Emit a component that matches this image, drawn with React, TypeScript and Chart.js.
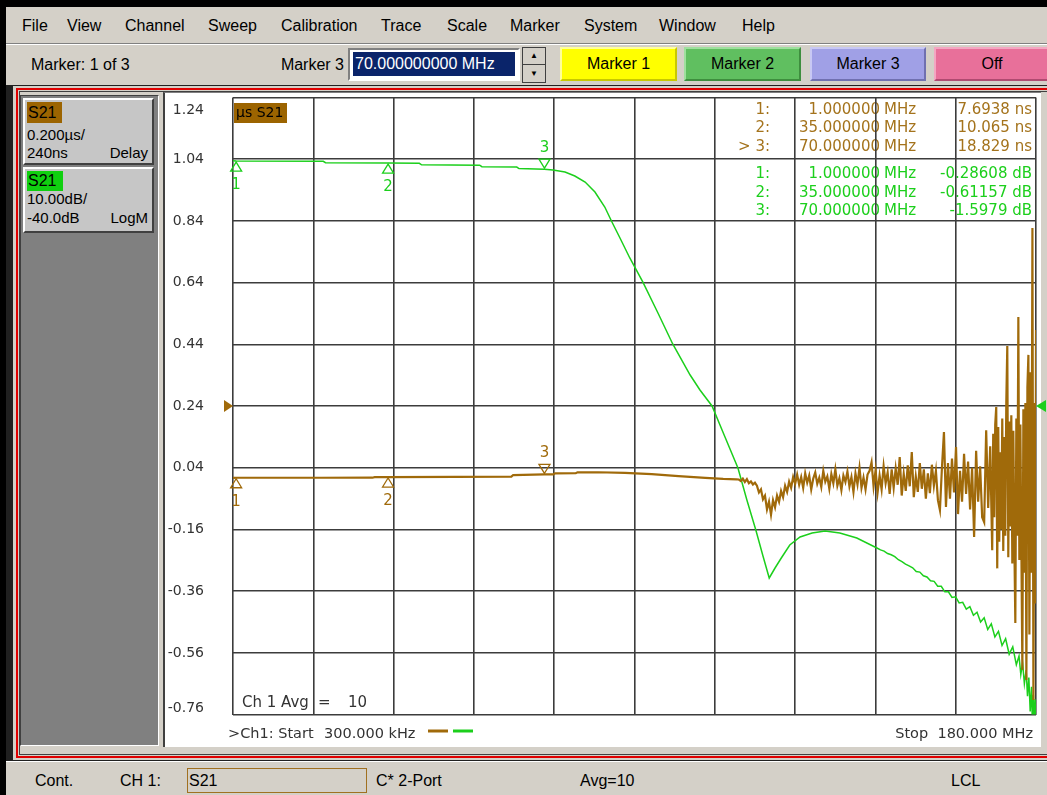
import React, { useEffect, useRef } from "react";
import { Chart, registerables } from "chart.js";

Chart.register(...registerables);

// ---------- sweep / scale settings ----------
const sweepStartMHz = 0.3;
const sweepStopMHz = 180;
const gridDivisions = 10;
const delayTickLabels = ["1.24", "1.04", "0.84", "0.64", "0.44", "0.24", "0.04", "-0.16", "-0.36", "-0.56", "-0.76"];
const delayRefNs = 240;
const magRefDb = -40;
const magMinDb = -90;
const magMaxDb = 10;

// ---------- markers ----------
const markerFreqsMHz = [1, 35, 70];
const markerDelayNs = [7.6938, 10.065, 18.829];
const markerMagDb = [-0.28608, -0.61157, -1.5979];
const activeMarker = 3;

// ---------- S21 group delay (ns) ----------
const delayFreqsMHz = [0.3, 1, 10, 20, 31.5, 32, 35, 50, 62.6, 63, 70, 72, 72.4, 77, 77.4, 82, 88, 94, 100, 106, 110, 113];
const delayNs = [7.4, 7.69, 7.7, 7.8, 7.9, 9.8, 10.07, 10.6, 11.2, 16.5, 18.83, 19.0, 22.0, 22.3, 25.2, 25.6, 23.5, 19.5, 13.0, 7.5, 4.0, 2.5];
const delayNoiseStartMHz = 113.5;
const delayNoiseStepMHz = 0.45;
const delayNoiseNs = [
  2, -3, 5, -6, 3, -10, -4, -14, -8,
  -18, -40, -30, -62, -50, -95, -70, -112,
  -65, -88, -50, -70, -35, -55, -18, -38, -5, -25, 10, -12,
  18, -15, 10, -25, 22, -8, 15, -30, 5, 25, -12, 8, -22, 30, -5, 12, -28, 20, -10, 35, -18, 6, -32, 15, -6, 28, -20, 10, -38, 22, -14, 40, -25, 8, -30, 18,
  30, 58, -20, 32, -40, 15, -30, 45, -10, 25, -45, 35, -25, 38, -15, 75, -50, 20, -35, 48, -20, 91, -55, 12, -38, 55, -28, 35, -60, 22, -42, 50, -18, 30, -65, -97,
  40, 156, -87, 55, -60, 70, -40, 107, -110, 30, -70, 85, -45, 60, -95, 40, -184, 95, -70, 45, -120, -136, 162, -90, 110,
];
const delayDenseStartMHz = 170.2;
const delayDenseStepMHz = 0.225;
const delayDenseNs = [
  -227, 150, -120, 180, 237, -286, 172, -200, 90, -160, 200, -230, 140, -180, 250, 435, -250, 190, -150, 210, -270, 160,
  -200, -463, 200, -180, 529, -259, 180, -220, -615, 230, -300, 250, -648, 300, 406, -500, 350, -300, 817, -713, 250, -400,
];
const delayEndFreqMHz = 180;
const delayEndNs = 487;

// ---------- S21 log magnitude (dB) ----------
const magFreqsMHz = [
  0.3, 1, 20.5, 21, 35, 42, 42.5, 55.5, 56, 63.8, 64.3, 70, 71.9, 74.6, 76.8, 79.1, 81.3, 83.5, 85.1, 86.9, 89.1, 92.0,
  95.4, 98.7, 102.6, 104.8, 107.5, 110.4, 113.3, 115.3, 117.3, 118.9, 120.3, 121.6, 123.0, 124.9, 127.2, 129.9, 132.8,
  136.1, 139.9, 144.4, 145.2, 146.0, 146.8, 147.6, 148.4, 149.2, 150.0, 150.8, 151.6, 152.4, 153.2, 154.0, 154.8, 155.6,
  156.4, 157.2, 158.0, 158.8, 159.6, 160.4, 161.2, 162.0, 162.8, 163.6, 164.4, 165.2, 166.0, 166.8, 167.6, 168.4, 169.2,
  170.0, 170.8, 171.6, 172.4, 173.2, 174.0, 174.8, 175.6, 176.2, 176.6, 177.0, 177.4, 177.8, 178.1, 178.4, 178.7, 179.0,
  179.2, 179.4, 179.6, 179.8, 180.0,
];
const magDb = [
  -0.25, -0.29, -0.33, -0.55, -0.61, -0.66, -0.9, -0.95, -1.2, -1.25, -1.5, -1.6, -1.74, -2.06, -2.71, -3.68, -5.3, -7.73,
  -10.16, -12.75, -15.99, -19.88, -24.91, -29.93, -34.96, -37.39, -39.98, -45.01, -50.03, -55.22, -60.08, -64.29, -67.86,
  -66.24, -64.62, -62.51, -61.22, -60.57, -60.24, -60.57, -61.38, -63.0, -63.3, -63.5, -63.9, -64.1, -64.4, -64.9, -65.2,
  -65.6, -65.9, -66.2, -66.8, -66.9, -67.5, -67.7, -68.3, -68.4, -69.2, -69.2, -70.1, -70.1, -71.0, -70.9, -71.9, -71.8,
  -72.9, -72.5, -73.9, -73.4, -75.0, -74.3, -76.2, -75.3, -77.4, -76.5, -78.8, -77.7, -80.2, -79.0, -81.9, -80.5, -83.5,
  -81.6, -85.0, -82.8, -87.0, -84.0, -89.5, -85.5, -92.0, -86.8, -93.0, -87.5, -94.0,
];

// ---------- styling ----------
const BROWN = "#a06a0a";
const BROWN_TXT = "#a4731c";
const BROWN_BG = "#9c6400";
const GREEN = "#1ccf1c";
const GRID = "#3c3c3c";
const TXT = "#333333";
const CHFONT = "'DejaVu Sans', 'Liberation Sans', sans-serif";
const UIFONT = "'Liberation Sans', Arial, sans-serif";

function triangle(ctx: CanvasRenderingContext2D, x: number, y: number, up: boolean, color: string) {
  ctx.beginPath();
  if (up) {
    ctx.moveTo(x, y + 1);
    ctx.lineTo(x - 5.5, y + 10);
    ctx.lineTo(x + 5.5, y + 10);
  } else {
    ctx.moveTo(x, y - 1);
    ctx.lineTo(x - 5.5, y - 10);
    ctx.lineTo(x + 5.5, y - 10);
  }
  ctx.closePath();
  ctx.strokeStyle = color;
  ctx.lineWidth = 1.3;
  ctx.stroke();
}

const vnaPlugin = {
  id: "vna",
  beforeDraw(chart: any) {
    const { ctx, chartArea: ca } = chart;
    ctx.save();
    ctx.font = `15px ${CHFONT}`;
    ctx.textBaseline = "middle";
    const rowOffsets = [12.4, 30.9, 49.4, 76.4, 95.4, 113.9];
    const colLabel = ca.right - 266;
    const colFreq = ca.right - 156;
    const colUnit = ca.right - 152;
    const colVal = ca.right - 4;
    markerFreqsMHz.forEach((f, i) => {
      const rows = [
        { color: BROWN_TXT, val: markerDelayNs[i].toPrecision(5) + " ns", row: i, act: i + 1 === activeMarker },
        { color: GREEN, val: markerMagDb[i].toPrecision(5) + " dB", row: i + 3, act: false },
      ];
      rows.forEach((r) => {
        const y = ca.top + rowOffsets[r.row];
        ctx.fillStyle = r.color;
        ctx.textAlign = "right";
        ctx.fillText((r.act ? "> " : "") + (i + 1) + ":", colLabel, y);
        ctx.fillText(f.toFixed(6), colFreq, y);
        ctx.fillText(r.val, colVal, y);
        ctx.textAlign = "left";
        ctx.fillText("MHz", colUnit, y);
      });
    });
    ctx.restore();
  },
  afterDraw(chart: any) {
    const { ctx, chartArea: ca, scales } = chart;
    const xs = scales.x;
    const ys = scales.y;
    const y2 = scales.y2;
    ctx.save();
    // y tick labels
    ctx.font = `14px ${CHFONT}`;
    ctx.fillStyle = TXT;
    ctx.textAlign = "right";
    ctx.textBaseline = "middle";
    delayTickLabels.forEach((s) => {
      const py = ys.getPixelForValue(parseFloat(s) * 1000);
      const yy = Math.max(ca.top + 12.4, Math.min(ca.bottom - 6.6, py));
      ctx.fillText(s, ca.left - 29, yy);
    });
    // trace label box
    ctx.fillStyle = BROWN_BG;
    ctx.fillRect(ca.left + 1, ca.top + 5.4, 53, 20);
    ctx.fillStyle = "#000";
    ctx.textAlign = "left";
    ctx.fillText("µs S21", ca.left + 3, ca.top + 15.8);
    // markers
    ctx.font = `15px ${CHFONT}`;
    ctx.textAlign = "center";
    markerFreqsMHz.forEach((f, i) => {
      const px = xs.getPixelForValue(f);
      const active = i + 1 === activeMarker;
      const traces = [
        { color: BROWN, py: ys.getPixelForValue(markerDelayNs[i]) },
        { color: GREEN, py: y2.getPixelForValue(markerMagDb[i]) },
      ];
      traces.forEach((t) => {
        triangle(ctx, px, t.py, !active, t.color);
        ctx.fillStyle = t.color;
        ctx.fillText(String(i + 1), px, active ? t.py - 21 : t.py + 24);
      });
    });
    // reference arrows
    const ry = ys.getPixelForValue(delayRefNs);
    ctx.fillStyle = BROWN;
    ctx.beginPath();
    ctx.moveTo(ca.left - 9, ry - 6);
    ctx.lineTo(ca.left - 9, ry + 6);
    ctx.lineTo(ca.left, ry);
    ctx.closePath();
    ctx.fill();
    const gy = y2.getPixelForValue(magRefDb);
    ctx.fillStyle = GREEN;
    ctx.beginPath();
    ctx.moveTo(ca.right + 10, gy - 6);
    ctx.lineTo(ca.right + 10, gy + 6);
    ctx.lineTo(ca.right, gy);
    ctx.closePath();
    ctx.fill();
    // channel annotations
    ctx.fillStyle = TXT;
    ctx.textAlign = "left";
    ctx.font = `15px ${CHFONT}`;
    ctx.fillText("Ch 1 Avg", ca.left + 9, ca.bottom - 11.6);
    ctx.fillText("=", ca.left + 85, ca.bottom - 11.6);
    ctx.fillText("10", ca.left + 115, ca.bottom - 11.6);
    ctx.font = `14.5px ${CHFONT}`;
    ctx.fillText(">Ch1: Start", ca.left - 5, ca.bottom + 19.4);
    ctx.fillText((sweepStartMHz * 1000).toFixed(3) + " kHz", ca.left + 91, ca.bottom + 19.4);
    ctx.textAlign = "right";
    ctx.fillText("Stop  " + sweepStopMHz.toFixed(3) + " MHz", ca.right - 3, ca.bottom + 19.4);
    ctx.lineWidth = 3;
    ctx.strokeStyle = BROWN;
    ctx.beginPath();
    ctx.moveTo(ca.left + 195, ca.bottom + 16.4);
    ctx.lineTo(ca.left + 215, ca.bottom + 16.4);
    ctx.stroke();
    ctx.strokeStyle = GREEN;
    ctx.beginPath();
    ctx.moveTo(ca.left + 220, ca.bottom + 16.4);
    ctx.lineTo(ca.left + 240, ca.bottom + 16.4);
    ctx.stroke();
    ctx.restore();
  },
};

function VnaChart() {
  const ref = useRef<HTMLCanvasElement | null>(null);
  useEffect(() => {
    if (!ref.current) return;
    const delayPoints = [
      ...delayFreqsMHz.map((f, i) => ({ x: f, y: delayNs[i] })),
      ...delayNoiseNs.map((v, i) => ({ x: delayNoiseStartMHz + i * delayNoiseStepMHz, y: v })),
      ...delayDenseNs.map((v, i) => ({ x: delayDenseStartMHz + i * delayDenseStepMHz, y: v })),
      { x: delayEndFreqMHz, y: delayEndNs },
    ];
    const magPoints = magFreqsMHz.map((f, i) => ({ x: f, y: magDb[i] }));
    const xGrid = Array.from({ length: gridDivisions + 1 }, (_, i) => sweepStartMHz + (i * (sweepStopMHz - sweepStartMHz)) / gridDivisions);
    const yGrid = delayTickLabels.map((s) => parseFloat(s) * 1000);
    const gridOpts = { color: GRID, lineWidth: 1.6, drawTicks: false };
    const chart = new Chart(ref.current, {
      type: "line",
      data: {
        datasets: [
          { label: "S21 Delay", data: delayPoints, borderColor: BROWN, borderWidth: 2.2, pointRadius: 0, tension: 0, yAxisID: "y" },
          { label: "S21 LogM", data: magPoints, borderColor: GREEN, borderWidth: 1.5, pointRadius: 0, tension: 0, yAxisID: "y2" },
        ],
      },
      options: {
        responsive: false,
        animation: false,
        devicePixelRatio: 1,
        events: [],
        layout: { padding: { left: 69, top: 4.6, right: 10, bottom: 33.4 } },
        plugins: { legend: { display: false }, tooltip: { enabled: false } },
        scales: {
          x: {
            type: "linear",
            min: sweepStartMHz,
            max: sweepStopMHz,
            afterBuildTicks: (s: any) => { s.ticks = xGrid.map((v) => ({ value: v })); },
            ticks: { display: false },
            grid: gridOpts,
            border: { display: false },
          },
          y: {
            type: "linear",
            min: Math.min(...yGrid),
            max: Math.max(...yGrid),
            afterBuildTicks: (s: any) => { s.ticks = yGrid.map((v) => ({ value: v })); },
            ticks: { display: false },
            grid: gridOpts,
            border: { display: false },
          },
          y2: { type: "linear", min: magMinDb, max: magMaxDb, display: false },
        },
      } as any,
      plugins: [vnaPlugin as any],
    });
    return () => chart.destroy();
  }, []);
  return <canvas ref={ref} width={882} height={655} style={{ position: "absolute", left: 164, top: 93, width: 882, height: 655 }} />;
}

const menuItems = ["File", "View", "Channel", "Sweep", "Calibration", "Trace", "Scale", "Marker", "System", "Window", "Help"];
const menuLeft = [22, 67, 125, 208, 281, 381, 447, 510, 584, 659, 742];

function T(props: { x: number; cy: number; children: any; size?: number; color?: string; font?: string; right?: boolean }) {
  const h = 22;
  const st: any = {
    position: "absolute",
    top: props.cy - h / 2,
    height: h,
    lineHeight: h + "px",
    fontSize: props.size || 15,
    fontFamily: props.font || UIFONT,
    color: props.color || "#000",
    whiteSpace: "nowrap",
  };
  if (props.right) {
    st.right = 1047 - props.x;
  } else {
    st.left = props.x;
  }
  return <div style={st}>{props.children}</div>;
}

function Btn(props: { x: number; w: number; bg: string; light: string; dark: string; label: string }) {
  return (
    <div style={{ position: "absolute", left: props.x, top: 47, width: props.w, height: 34, boxSizing: "border-box", background: props.bg, borderStyle: "solid", borderWidth: 2, borderColor: `${props.light} ${props.dark} ${props.dark} ${props.light}`, textAlign: "center", lineHeight: "30px", fontFamily: UIFONT, fontSize: 16 }}>
      {props.label}
    </div>
  );
}

export default function App() {
  const gray = "#d4d0c8";
  return (
    <div style={{ position: "fixed", left: 0, top: 0, width: 1047, height: 795, background: gray, overflow: "hidden" }}>
      <div style={{ position: "absolute", left: 0, top: 0, width: 1047, height: 7, background: "#000" }} />
      <div style={{ position: "absolute", left: 0, top: 0, width: 6, height: 795, background: "#000" }} />
      {menuItems.map((m, i) => (
        <T key={m} x={menuLeft[i]} cy={26} size={16}>{m}</T>
      ))}
      <div style={{ position: "absolute", left: 6, top: 43, width: 1041, height: 1, background: "#808080" }} />
      <div style={{ position: "absolute", left: 6, top: 44, width: 1041, height: 1, background: "#ffffff" }} />
      <T x={31} cy={65} size={16}>Marker: 1 of 3</T>
      <T x={344} cy={65} size={16} right>Marker 3</T>
      <div style={{ position: "absolute", left: 348, top: 48, width: 172, height: 33, boxSizing: "border-box", background: "#fff", borderStyle: "solid", borderWidth: 2, borderColor: "#808080 #ffffff #ffffff #808080" }} />
      <div style={{ position: "absolute", left: 353, top: 52, width: 162, height: 24, background: "#0a246a", color: "#fff", fontFamily: UIFONT, fontSize: 16, lineHeight: "24px", paddingLeft: 2, boxSizing: "border-box", whiteSpace: "nowrap", overflow: "hidden" }}>70.000000000 MHz</div>
      <div style={{ position: "absolute", left: 522, top: 47, width: 24, height: 36, boxSizing: "border-box", border: "1px solid #404040", background: gray }}>
        <div style={{ height: 16, borderBottom: "1px solid #404040", textAlign: "center", fontSize: 8, lineHeight: "16px", color: "#000" }}>▲</div>
        <div style={{ height: 17, textAlign: "center", fontSize: 8, lineHeight: "17px", color: "#000" }}>▼</div>
      </div>
      <Btn x={560} w={117} bg="#ffff00" light="#ffff9a" dark="#c8c800" label="Marker 1" />
      <Btn x={684} w={117} bg="#60bf60" light="#9ee09e" dark="#3e8e3e" label="Marker 2" />
      <Btn x={810} w={116} bg="#a0a0e6" light="#c8c8f4" dark="#7070b0" label="Marker 3" />
      <Btn x={934} w={116} bg="#e8709a" light="#f4a6c2" dark="#b04a70" label="Off" />
      <div style={{ position: "absolute", left: 6, top: 85, width: 1041, height: 677, background: "#202020" }} />
      <div style={{ position: "absolute", left: 13, top: 86, width: 1034, height: 674, background: gray }} />
      <div style={{ position: "absolute", left: 16, top: 88, width: 1031, height: 670, boxSizing: "border-box", border: "2px solid #e00000", borderRight: "none" }} />
      <div style={{ position: "absolute", left: 19, top: 91, width: 1028, height: 664, boxSizing: "border-box", border: "1px solid #404040", borderRight: "none" }} />
      <div style={{ position: "absolute", left: 20, top: 95, width: 139, height: 651, background: "#808080", boxSizing: "border-box", borderStyle: "solid", borderWidth: 1, borderColor: "#404040 #ffffff #ffffff #404040" }} />
      <div style={{ position: "absolute", left: 23, top: 98, width: 131, height: 67, background: "#c6c6c6", boxSizing: "border-box", borderStyle: "solid", borderWidth: 2, borderColor: "#ffffff #404040 #404040 #ffffff" }} />
      <div style={{ position: "absolute", left: 27, top: 102, width: 35, height: 21, background: BROWN_BG }} />
      <T x={28} cy={113} size={16}>S21</T>
      <T x={27} cy={135} size={15}>0.200µs/</T>
      <T x={27} cy={153} size={15}>240ns</T>
      <T x={148} cy={153} size={15} right>Delay</T>
      <div style={{ position: "absolute", left: 23, top: 167, width: 131, height: 66, background: "#c6c6c6", boxSizing: "border-box", borderStyle: "solid", borderWidth: 2, borderColor: "#ffffff #404040 #404040 #ffffff" }} />
      <div style={{ position: "absolute", left: 27, top: 171, width: 36, height: 20, background: "#10d010" }} />
      <T x={28} cy={181} size={16}>S21</T>
      <T x={27} cy={199} size={15}>10.00dB/</T>
      <T x={27} cy={218} size={15}>-40.0dB</T>
      <T x={148} cy={218} size={15} right>LogM</T>
      <div style={{ position: "absolute", left: 163, top: 92, width: 878, height: 655, background: "#fff", boxSizing: "border-box", borderLeft: "2px solid #404040", borderTop: "1px solid #808080" }} />
      <VnaChart />
      <div style={{ position: "absolute", left: 6, top: 761, width: 1041, height: 34, background: gray, borderTop: "1px solid #ffffff" }} />
      <T x={35} cy={781} size={16}>Cont.</T>
      <T x={120} cy={781} size={16}>CH 1:</T>
      <div style={{ position: "absolute", left: 187, top: 768, width: 180, height: 25, boxSizing: "border-box", border: "1px solid #a07020" }} />
      <T x={189} cy={781} size={16}>S21</T>
      <T x={376} cy={781} size={16}>C* 2-Port</T>
      <T x={580} cy={781} size={16}>Avg=10</T>
      <T x={951} cy={781} size={16}>LCL</T>
    </div>
  );
}
